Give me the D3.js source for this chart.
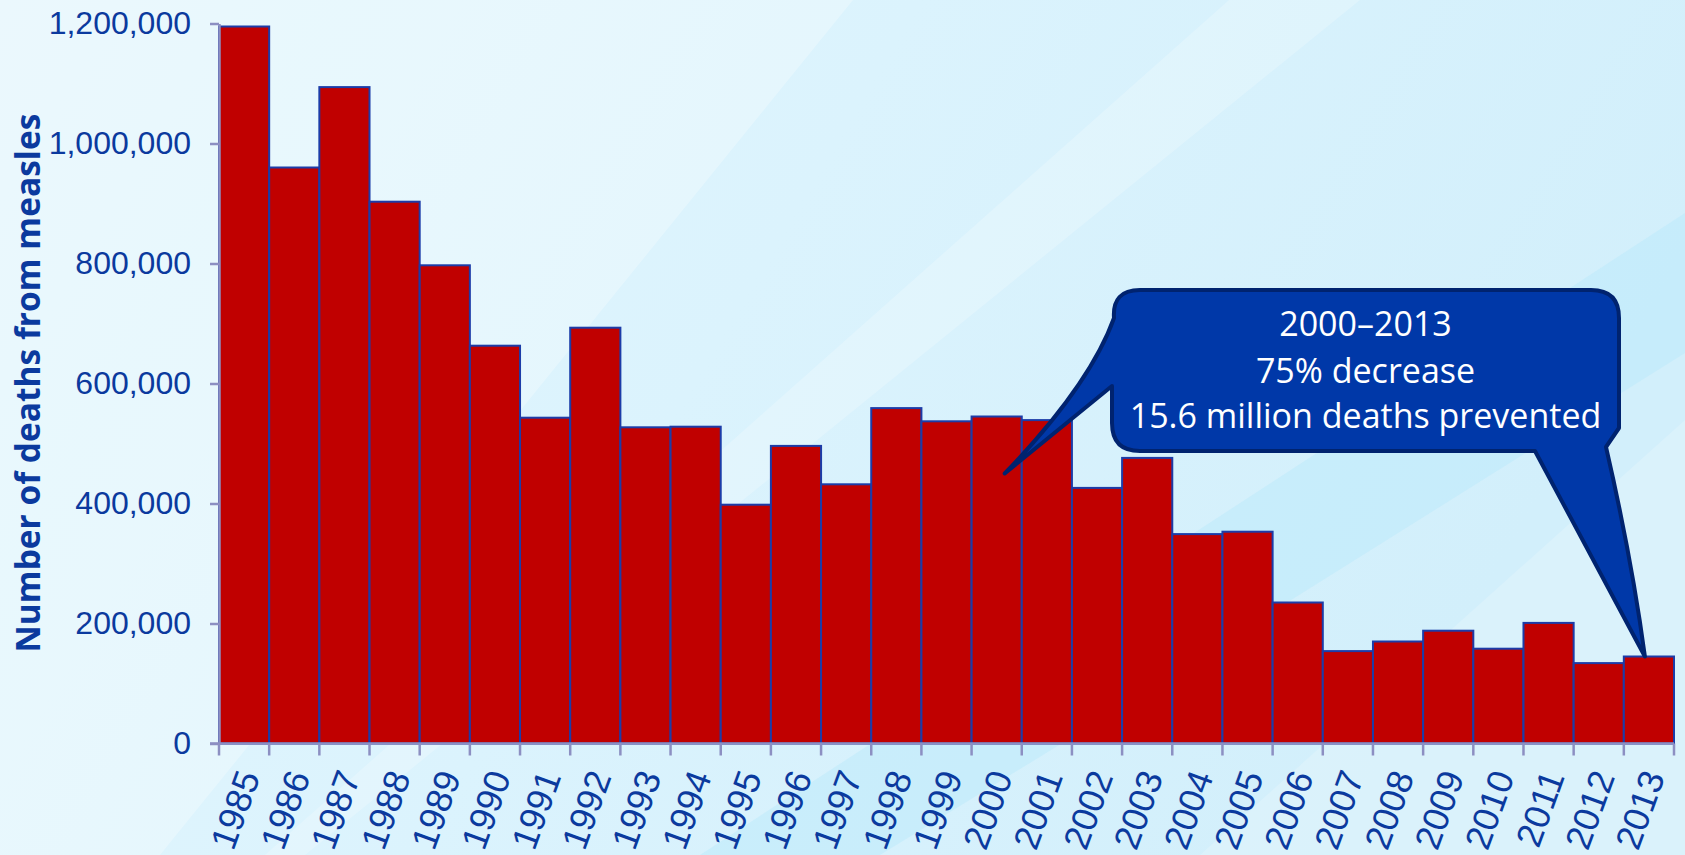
<!DOCTYPE html>
<html>
<head>
<meta charset="utf-8">
<script src="https://cdn.jsdelivr.net/npm/d3@7"></script>
<style>
  html, body { margin: 0; padding: 0; background: #dcf3fd; overflow: hidden; }
  svg { display: block; }
</style>
</head>
<body>
<script>
// measles deaths per year
var years = ["1985","1986","1987","1988","1989","1990","1991","1992","1993","1994",
             "1995","1996","1997","1998","1999","2000","2001","2002","2003","2004",
             "2005","2006","2007","2008","2009","2010","2011","2012","2013"];

var deaths = [1195000, 960000, 1094000, 903000, 797000, 663000, 543000, 693000, 527000, 528000,
              398000, 496000, 432000, 559000, 537000, 545000, 539000, 426000, 476000, 349000,
              353000, 235000, 154000, 170000, 188000, 158000, 201000, 134000, 145000];

var yTicks = [0, 200000, 400000, 600000, 800000, 1000000, 1200000];

var yTitle = "Number of deaths from measles";
var calloutLines = ["2000\u20132013", "75% decrease", "15.6 million deaths prevented"];

var W = 1685, H = 855;
var blue = "#0b3a9e";

var svg = d3.select("body").append("svg")
    .attr("width", W)
    .attr("height", H);

// background: soft gradient plus diagonal light streaks
var defs = svg.append("defs");
var grad = defs.append("linearGradient")
    .attr("id", "bg")
    .attr("x1", "0").attr("y1", "0").attr("x2", "1").attr("y2", "0.3");
grad.append("stop").attr("offset", "0").attr("stop-color", "#e3f6fd");
grad.append("stop").attr("offset", "0.5").attr("stop-color", "#dbf3fd");
grad.append("stop").attr("offset", "1").attr("stop-color", "#d2effb");

svg.append("rect").attr("width", W).attr("height", H).attr("fill", "url(#bg)");

var streaks = [
  { pts: [[0,0],[853,0],[160,855],[0,855]], fill: "#ffffff", op: 0.28 },
  { pts: [[1229,0],[1360,0],[305,855],[265,855]], fill: "#ffffff", op: 0.22 },
  { pts: [[1685,213],[1685,353],[1100,720],[880,855],[700,855]], fill: "#b9e8fa", op: 0.45 },
  { pts: [[1685,420],[1685,855],[1200,855]], fill: "#ffffff", op: 0.18 }
];
svg.selectAll("polygon.streak")
    .data(streaks)
    .enter().append("polygon")
    .attr("class", "streak")
    .attr("points", function(d) { return d.pts.map(function(p) { return p.join(","); }).join(" "); })
    .attr("fill", function(d) { return d.fill; })
    .attr("opacity", function(d) { return d.op; });

// scales
var x = d3.scaleBand()
    .domain(years)
    .range([219, 1674])
    .padding(0);

var y = d3.scaleLinear()
    .domain([0, 1200000])
    .range([743.5, 23.5]);

var data = years.map(function(yr, i) { return { year: yr, value: deaths[i] }; });

// bars
svg.append("g").selectAll("rect")
    .data(data)
    .enter().append("rect")
    .attr("x", function(d) { return x(d.year); })
    .attr("y", function(d) { return y(d.value); })
    .attr("width", x.bandwidth())
    .attr("height", function(d) { return y(0) - y(d.value); })
    .attr("fill", "#c00000")
    .attr("stroke", "#1c3ca8")
    .attr("stroke-width", 2);

// y axis
var yAxis = svg.append("g")
    .attr("transform", "translate(" + x.range()[0] + ",0)")
    .call(d3.axisLeft(y)
        .tickValues(yTicks)
        .tickSize(9)
        .tickSizeOuter(0)
        .tickPadding(19)
        .tickFormat(d3.format(",")));
yAxis.select(".domain").attr("stroke", "#8c8fc2").attr("stroke-width", 2.5);
yAxis.selectAll(".tick line").attr("stroke", "#8c8fc2").attr("stroke-width", 2.5);
yAxis.selectAll(".tick text")
    .attr("fill", blue)
    .style("font-family", "'Liberation Sans', Arial, sans-serif")
    .style("font-size", "32px");

// x axis: ticks sit on the bar edges, labels on the bar centres
var xAxis = svg.append("g")
    .attr("transform", "translate(0," + y(0) + ")")
    .call(d3.axisBottom(x).tickSize(0).tickSizeOuter(0).tickPadding(0));
xAxis.select(".domain").attr("stroke", "#8c8fc2").attr("stroke-width", 2.5)
    .attr("d", "M" + (x.range()[0] - 9) + ",0H" + x.range()[1]);
xAxis.selectAll(".tick text")
    .attr("fill", blue)
    .style("font-family", "'Liberation Sans', Arial, sans-serif")
    .style("font-size", "36px")
    .attr("text-anchor", "end")
    .attr("dy", "0")
    .attr("transform", "translate(16.5,33) rotate(-70)");

var edges = years.map(function(yr) { return x(yr); }).concat([x.range()[1]]);
xAxis.selectAll("line.edge")
    .data(edges)
    .enter().append("line")
    .attr("class", "edge")
    .attr("x1", function(d) { return d; })
    .attr("x2", function(d) { return d; })
    .attr("y1", 0)
    .attr("y2", 12)
    .attr("stroke", "#8c8fc2")
    .attr("stroke-width", 2.5);

// y title, sized to match the original length
var title = svg.append("text")
    .attr("transform", "translate(40,383) rotate(-90)")
    .attr("text-anchor", "middle")
    .attr("fill", blue)
    .style("font-family", "'Open Sans', sans-serif")
    .style("font-weight", "bold")
    .style("font-size", "30px")
    .text(yTitle);
var tl = title.node().getComputedTextLength();
title.style("font-size", (30 * 539 / tl).toFixed(2) + "px");

// callout bubble with two tails
var bx0 = 1112, bx1 = 1619, by0 = 290, by1 = 451, r = 28;
var tipL = [x("2000") + x.bandwidth() * 0.66, y(450000)];
var tipR = [x("2013") + x.bandwidth() * 0.42, y(deaths[deaths.length - 1])];

var p = d3.path();
p.moveTo(bx0 + r, by0);
p.lineTo(bx1 - r, by0);
p.quadraticCurveTo(bx1, by0, bx1, by0 + r);
p.lineTo(bx1, 428);
p.lineTo(1606, 447);
p.quadraticCurveTo(1632, 560, tipR[0], tipR[1]);
p.lineTo(1535, by1);
p.lineTo(bx0 + r, by1);
p.quadraticCurveTo(bx0, by1, bx0, by1 - r);
p.lineTo(bx0, 386);
p.lineTo(tipL[0], tipL[1]);
p.quadraticCurveTo(1090, 385, bx0 + 2, 318);
p.quadraticCurveTo(bx0, by0, bx0 + r, by0);
p.closePath();

svg.append("path")
    .attr("d", p.toString())
    .attr("fill", "#0038a8")
    .attr("stroke", "#00236f")
    .attr("stroke-width", 4)
    .attr("stroke-linejoin", "round");

var cx = (bx0 + bx1) / 2;
var baselines = [336, 383, 428];
var callText = svg.append("g")
    .attr("fill", "#ffffff")
    .style("font-family", "'Open Sans', sans-serif")
    .style("font-size", "34px")
    .attr("text-anchor", "middle");
callText.selectAll("text")
    .data(calloutLines)
    .enter().append("text")
    .attr("x", cx)
    .attr("y", function(d, i) { return baselines[i]; })
    .text(function(d) { return d; });

// squeeze to the narrower face of the original
var widths = [196, 262, 476];
callText.selectAll("text").each(function(d, i) {
  var len = this.getComputedTextLength();
  if (len > widths[i]) {
    d3.select(this).attr("textLength", widths[i]).attr("lengthAdjust", "spacingAndGlyphs");
  }
});
</script>
</body>
</html>
